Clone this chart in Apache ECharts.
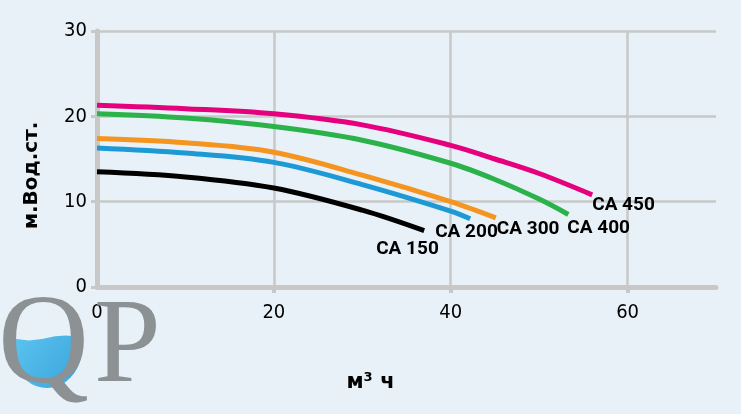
<!DOCTYPE html>
<html>
<head>
<meta charset="utf-8">
<script src="https://cdn.jsdelivr.net/npm/echarts@6/dist/echarts.min.js"></script>
<style>
  html, body { margin: 0; padding: 0; background: #e8f1f7; }
  #main { width: 741px; height: 414px; }
</style>
</head>
<body>
<div id="main"></div>
<script>
// подписи осей
var yTicks = [0, 10, 20, 30];
var xLabels = [0, 20, 40, 60];
var xTicks = [20, 40, 60];

// насосы CA: расход (м3/ч) и напор (м.вод.ст.)
var names = ['CA 150', 'CA 200', 'CA 300', 'CA 400', 'CA 450'];
var q150 = [0, 10, 20, 30, 37];
var h150 = [13.5, 12.9, 11.6, 9.0, 6.6];
var q200 = [0, 10, 20, 30, 40, 42.2];
var h200 = [16.3, 15.7, 14.6, 12.0, 8.9, 8.0];
var q300 = [0, 10, 20, 30, 40, 45.1];
var h300 = [17.4, 16.9, 15.8, 13.1, 10.0, 8.1];
var q400 = [0, 10, 20, 30, 40, 45, 50, 53.3];
var h400 = [20.3, 19.8, 18.8, 17.2, 14.5, 12.6, 10.3, 8.5];
var q450 = [0, 10, 20, 30, 40, 45, 50, 56];
var h450 = [21.3, 20.9, 20.3, 19.0, 16.6, 15.0, 13.3, 10.8];

var colors = ['#000000', '#1d9ad6', '#f5951f', '#2bb24a', '#e5007d'];
var labelOffsets = [[-48, 19], [-35, 14], [1, 11], [-1, 14], [0, 10]];

var narrow = "'DejaVu Sans Condensed', sans-serif";

function pairs(q, h) {
    var d = [];
    for (var i = 0; i < q.length; i++) {
        d.push([q[i], h[i]]);
    }
    return d;
}

// вода в букве Q (логотип): волна сверху и дно эллипса
function waterShape() {
    var pts = [];
    var cx = 47, cy = 348, rx = 35, ry = 40;
    var a0 = Math.asin((340 - cy) / ry);
    for (var k = 0; k <= 24; k++) {
        var a = a0 + (Math.PI - 2 * a0) * k / 24;
        pts.push([cx + rx * Math.cos(a), cy + ry * Math.sin(a)]);
    }
    for (var j = 0; j <= 12; j++) {
        var x = pts[pts.length - 1][0] + (pts[0][0] - pts[pts.length - 1][0]) * j / 12;
        pts.push([x, 338 + 2.5 * Math.sin((x - 12) / 70 * Math.PI * 2)]);
    }
    return pts;
}

var qs = [q150, q200, q300, q400, q450];
var hs = [h150, h200, h300, h400, h450];
var series = [];
for (var i = 0; i < names.length; i++) {
    series.push({
        name: names[i],
        type: 'line',
        data: pairs(qs[i], hs[i]),
        smooth: 0.35,
        showSymbol: false,
        lineStyle: { color: colors[i], width: 5, cap: 'butt' },
        itemStyle: { color: colors[i] },
        endLabel: {
            show: true,
            formatter: '{a}',
            distance: 0,
            offset: labelOffsets[i],
            color: '#000',
            fontFamily: 'Roboto, sans-serif',
            fontWeight: 'bold',
            fontSize: 19
        },
        z: 3
    });
}

var myChart = echarts.init(document.getElementById('main'));
var option = {
    backgroundColor: '#e8f1f7',
    animation: false,
    grid: { left: 97, right: 25, top: 31, bottom: 127 },
    xAxis: {
        type: 'value',
        min: 0,
        max: 70,
        interval: 10,
        name: 'м³ ч',
        nameLocation: 'middle',
        nameGap: 85,
        nameTextStyle: {
            color: '#000', fontSize: 21, fontWeight: 'bold',
            fontFamily: "'DejaVu Sans', sans-serif",
            padding: [0, 72, 0, 0]
        },
        axisLine: { lineStyle: { color: '#c8c8c8', width: 5 } },
        axisTick: { customValues: xTicks, length: 6, lineStyle: { color: '#c8c8c8', width: 4 } },
        axisLabel: {
            customValues: xLabels,
            margin: 16,
            color: '#000',
            fontSize: 20,
            fontFamily: narrow
        },
        splitLine: { show: true, lineStyle: { color: '#c8c8c8', width: 2.5 } }
    },
    yAxis: {
        type: 'value',
        min: 0,
        max: 30,
        interval: 10,
        name: 'м.Вод.ст.',
        nameLocation: 'middle',
        nameRotate: 90,
        nameGap: 55,
        nameTextStyle: {
            color: '#000', fontSize: 20, fontWeight: 'bold',
            fontFamily: "'DejaVu Sans', sans-serif",
            padding: [0, 33, 0, 0]
        },
        axisLine: { show: true, lineStyle: { color: '#c8c8c8', width: 5 } },
        axisTick: { show: true, length: 6, lineStyle: { color: '#c8c8c8', width: 3 } },
        axisLabel: {
            margin: 10,
            color: '#000',
            fontSize: 20,
            fontFamily: narrow
        },
        splitLine: { show: true, lineStyle: { color: '#c8c8c8', width: 2.5 } }
    },
    // логотип QP
    graphic: [
        {
            type: 'polygon',
            z: 0,
            shape: { points: waterShape() },
            style: {
                fill: {
                    type: 'linear', x: 0, y: 0, x2: 1, y2: 1,
                    colorStops: [
                        { offset: 0, color: '#5cc4ee' },
                        { offset: 1, color: '#3aa3dc' }
                    ]
                }
            }
        },
        {
            type: 'text',
            z: 1,
            style: {
                x: -2, y: 349,
                text: 'Q',
                fill: '#8c9193',
                font: '126px "Liberation Serif", serif',
                verticalAlign: 'middle'
            }
        },
        {
            type: 'text',
            z: 1,
            style: {
                x: 94, y: 349,
                text: 'P',
                fill: '#8c9193',
                font: '120px "Liberation Serif", serif',
                verticalAlign: 'middle'
            }
        }
    ],
    series: series
};
myChart.setOption(option);
</script>
</body>
</html>
